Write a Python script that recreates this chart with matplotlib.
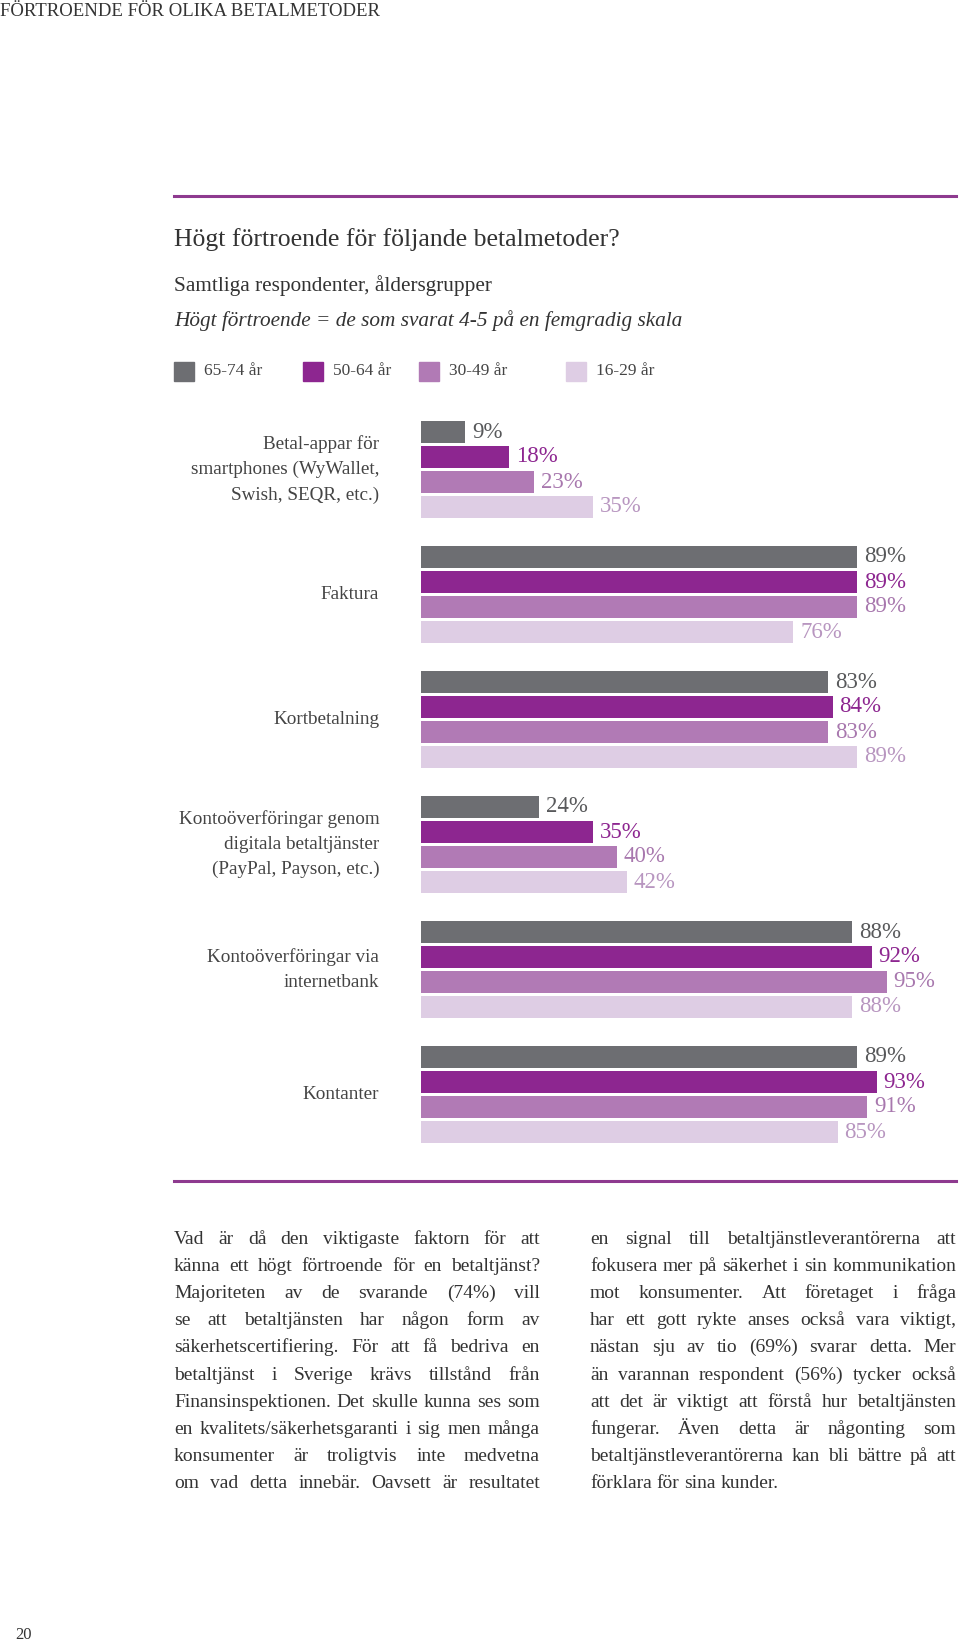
import numpy as np
import matplotlib.pyplot as plt

W, H = 960, 1643

categories = ["Betal-appar för\nsmartphones (WyWallet,\nSwish, SEQR, etc.)",
              "Faktura",
              "Kortbetalning",
              "Kontoöverföringar genom\ndigitala betaltjänster\n(PayPal, Payson, etc.)",
              "Kontoöverföringar via\ninternetbank",
              "Kontanter"]
age_groups = ["65-74 år", "50-64 år", "30-49 år", "16-29 år"]
v_65_74 = [9, 89, 83, 24, 88, 89]
v_50_64 = [18, 89, 84, 35, 92, 93]
v_30_49 = [23, 89, 83, 40, 95, 91]
v_16_29 = [35, 76, 89, 42, 88, 85]
series = [v_65_74, v_50_64, v_30_49, v_16_29]

bar_colors = ["#6d6e72", "#8d2690", "#b17ab5", "#decde4"]
label_colors = ["#58595b", "#8d2690", "#a878ae", "#b896c0"]
accent = "#8e3a8f"

left_text = [
    "Vad är då den viktigaste faktorn för att",
    "känna ett högt förtroende för en betaltjänst?",
    "Majoriteten av de svarande (74%) vill",
    "se att betaltjänsten har någon form av",
    "säkerhetscertifiering. För att få bedriva en",
    "betaltjänst i Sverige krävs tillstånd från",
    "Finansinspektionen. Det skulle kunna ses som",
    "en kvalitets/säkerhetsgaranti i sig men många",
    "konsumenter är troligtvis inte medvetna",
    "om vad detta innebär. Oavsett är resultatet",
]
right_text = [
    "en signal till betaltjänstleverantörerna att",
    "fokusera mer på säkerhet i sin kommunikation",
    "mot konsumenter. Att företaget i fråga",
    "har ett gott rykte anses också vara viktigt,",
    "nästan sju av tio (69%) svarar detta. Mer",
    "än varannan respondent (56%) tycker också",
    "att det är viktigt att förstå hur betaltjänsten",
    "fungerar. Även detta är någonting som",
    "betaltjänstleverantörerna kan bli bättre på att",
    "förklara för sina kunder.",
]

plt.rcParams['font.family'] = ['Liberation Serif', 'DejaVu Serif']
fig = plt.figure(figsize=(W / 100, H / 100), dpi=100)


def fx(x):
    return x / W


def fy(y):
    return 1 - y / H


# header and rules
fig.text(fx(0), fy(12), "FÖRTROENDE FÖR OLIKA BETALMETODER", fontsize=13.5,
         color="#333333", va="center", ha="left")
fig.add_artist(plt.Line2D([fx(174), fx(956)], [fy(196), fy(196)], color=accent, lw=2.2))
fig.add_artist(plt.Line2D([fx(174), fx(956)], [fy(1181), fy(1181)], color=accent, lw=2.2))

fig.text(fx(174), fy(240), "Högt förtroende för följande betalmetoder?", fontsize=18.5,
         color="#333333", va="center")
fig.text(fx(174), fy(286), "Samtliga respondenter, åldersgrupper", fontsize=15.3,
         color="#333333", va="center")
fig.text(fx(174), fy(321), "Högt förtroende = de som svarat 4-5 på en femgradig skala",
         fontsize=15.3, style="italic", color="#333333", va="center")

# legend
legend_x = [174, 303, 419, 566]
for lx, lab, c in zip(legend_x, age_groups, bar_colors):
    fig.add_artist(plt.Rectangle((fx(lx), fy(381)), 20 / W, 19 / H, color=c))
    fig.text(fx(lx + 30), fy(371), lab, fontsize=12.5, color="#444444", va="center")

# bar chart
ax = fig.add_axes([fx(421), fy(1143), 490 / W, 722 / H])
ax.set_xlim(0, 100)
ax.set_ylim(28.44, -0.44)
ax.axis("off")

for g, cat in enumerate(categories):
    for i, vals in enumerate(series):
        y = g * 5 + i
        ax.barh(y, vals[g], height=0.88, color=bar_colors[i])
        ax.annotate(f"{vals[g]}%", (vals[g], y), xytext=(5, 0), textcoords="offset points",
                    va="center", ha="left", fontsize=16.5, color=label_colors[i],
                    annotation_clip=False)
    ax.annotate(cat, (0, g * 5 + 1.5), xytext=(-30, 0), textcoords="offset points",
                va="center", ha="right", fontsize=13.8, color="#444444",
                linespacing=1.6, annotation_clip=False)

# justified body text
renderer = fig.canvas.get_renderer()


def justify(lines, x0, x1, y0, pitch=27.1, size=14):
    for k, line in enumerate(lines):
        y = y0 + k * pitch + 5
        words = line.split()
        texts = [fig.text(0, fy(y), w, fontsize=size, color="#333333", va="baseline")
                 for w in words]
        widths = [t.get_window_extent(renderer).width for t in texts]
        if k == len(lines) - 1 and line.endswith("kunder."):
            gap = size * 0.35
        else:
            gap = (x1 - x0 - sum(widths)) / max(len(words) - 1, 1)
        x = x0
        for t, w in zip(texts, widths):
            t.set_x(fx(x))
            x += w + gap


justify(left_text, 174, 540, 1239)
justify(right_text, 590, 956, 1239)

fig.text(fx(15), fy(1635), "20", fontsize=12, color="#333333", va="center")

fig.savefig("out.png", dpi=100)
